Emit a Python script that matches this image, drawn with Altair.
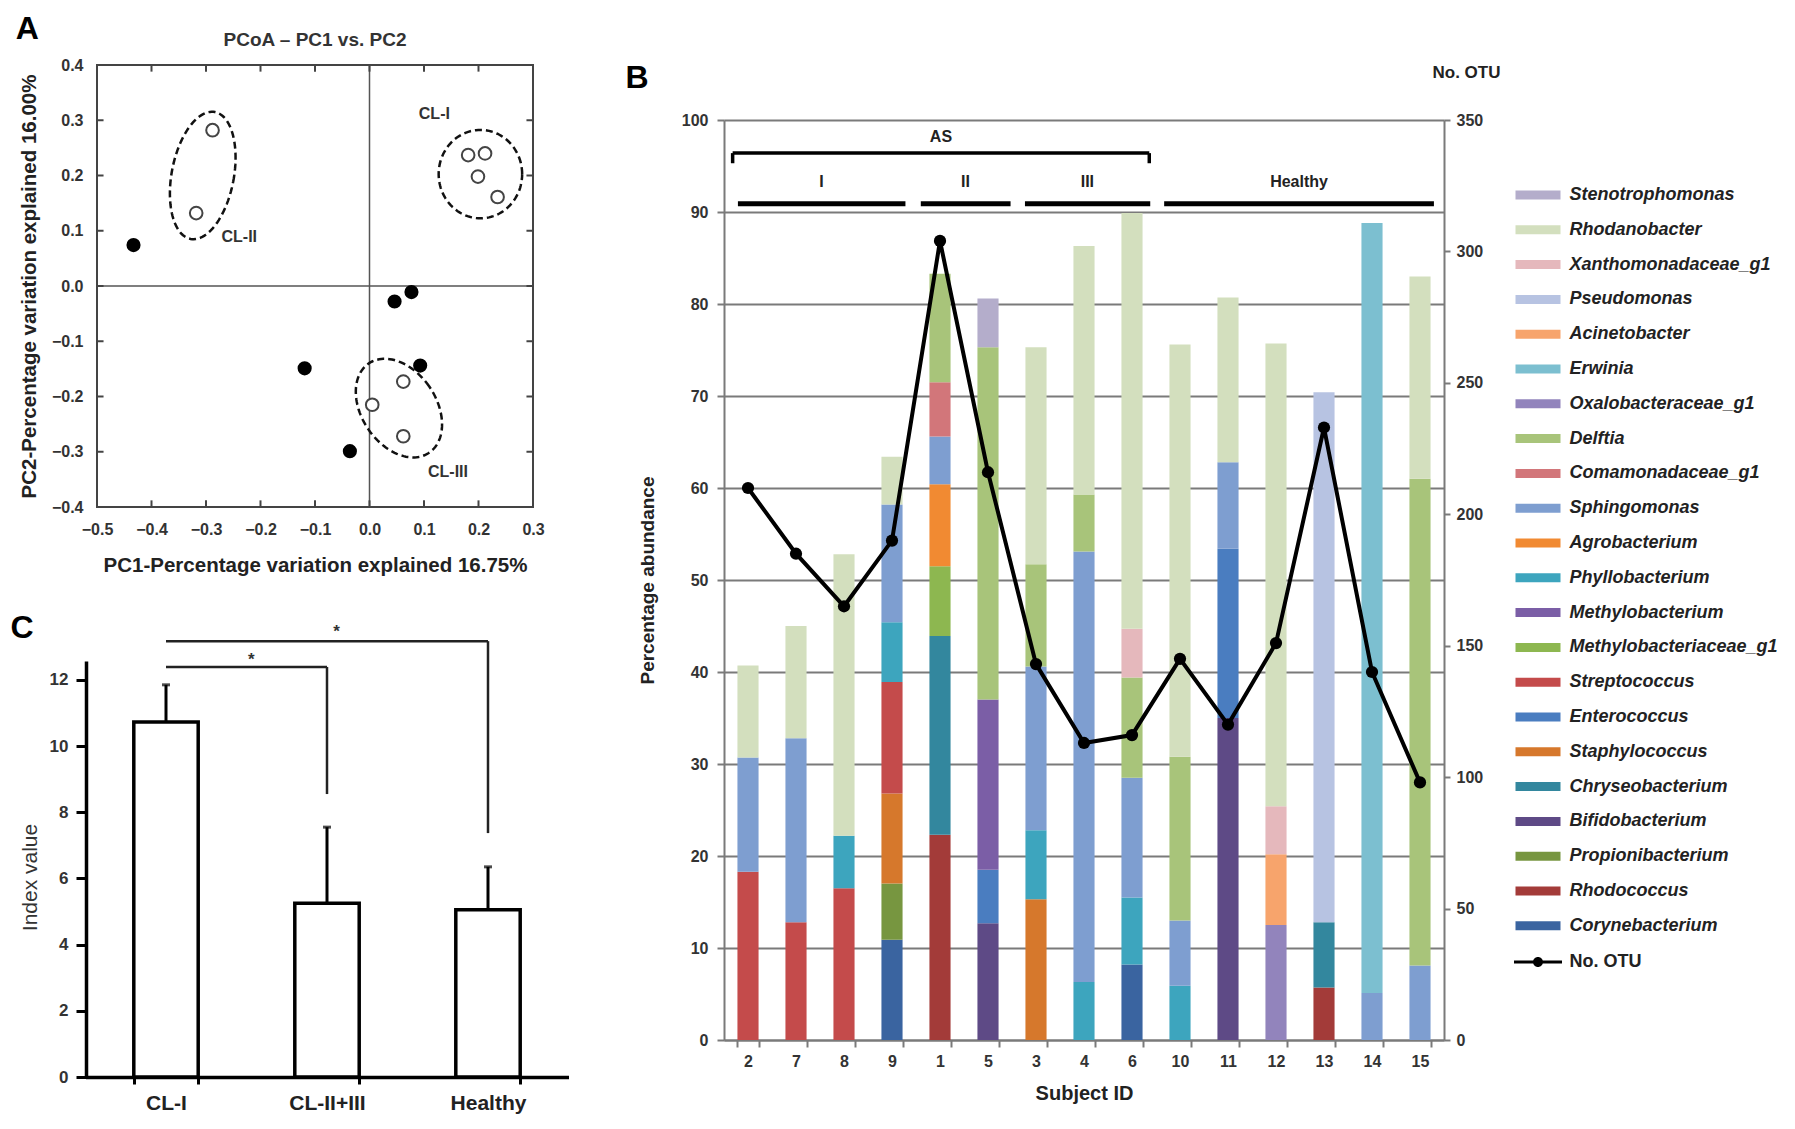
import altair as alt
import numpy as np
import pandas as pd

W, H = 1779, 1113
FONT = "Liberation Sans"
INK = "#222222"
LBL = "#333333"
GRID = "#7a7a7a"

# ---------------- Panel A : PCoA ----------------
pc1_open = [0.181, 0.212, 0.199, 0.235, -0.288, -0.318, 0.062, 0.005, 0.062]
pc2_open = [0.237, 0.240, 0.198, 0.161, 0.282, 0.132, -0.173, -0.215, -0.272]
pc1_filled = [-0.433, 0.046, 0.077, -0.119, 0.093, -0.036]
pc2_filled = [0.074, -0.028, -0.011, -0.149, -0.144, -0.299]
cluster_names = ["CL-I", "CL-II", "CL-III"]
cluster_cx = [0.2035, -0.306, 0.054]
cluster_cy = [0.2025, 0.200, -0.221]
cluster_major = [0.080, 0.117, 0.098]
cluster_minor = [0.0766, 0.057, 0.068]
cluster_tilt = [0.0, 11.0, -35.0]
cluster_label_x = [0.119, -0.239, 0.144]
cluster_label_y = [0.311, 0.089, -0.336]
pcoa_x_ticks = [-0.5, -0.4, -0.3, -0.2, -0.1, 0.0, 0.1, 0.2, 0.3]
pcoa_y_ticks = [-0.4, -0.3, -0.2, -0.1, 0.0, 0.1, 0.2, 0.3, 0.4]

# ---------------- Panel B : stacked abundance ----------------
subjects = ["2", "7", "8", "9", "1", "5", "3", "4", "6", "10", "11", "12", "13", "14", "15"]
genera = ["Stenotrophomonas", "Rhodanobacter", "Xanthomonadaceae_g1", "Pseudomonas",
          "Acinetobacter", "Erwinia", "Oxalobacteraceae_g1", "Delftia", "Comamonadaceae_g1",
          "Sphingomonas", "Agrobacterium", "Phyllobacterium", "Methylobacterium",
          "Methylobacteriaceae_g1", "Streptococcus", "Enterococcus", "Staphylococcus",
          "Chryseobacterium", "Bifidobacterium", "Propionibacterium", "Rhodococcus",
          "Corynebacterium"]
genus_colors = ["#b4adcb", "#d3dfbe", "#e5b8bc", "#b7c3e2", "#f7a46c", "#7cbfd0",
                "#9284bc", "#a8c47a", "#d2767a", "#7e9ed0", "#f18a32", "#3da5be",
                "#7b5ea6", "#8db750", "#c44b4b", "#4a7dc0", "#d6782c", "#33879e",
                "#5e4a86", "#779640", "#a33b39", "#3a64a0"]
# cumulative tops (bottom -> top)
stack_2 = [("Streptococcus", 18.3), ("Sphingomonas", 30.7), ("Rhodanobacter", 40.7)]
stack_7 = [("Streptococcus", 12.8), ("Sphingomonas", 32.8), ("Rhodanobacter", 45.0)]
stack_8 = [("Streptococcus", 16.5), ("Phyllobacterium", 22.2), ("Rhodanobacter", 52.8)]
stack_9 = [("Corynebacterium", 10.9), ("Propionibacterium", 17.0), ("Staphylococcus", 26.8),
           ("Streptococcus", 38.9), ("Phyllobacterium", 45.4), ("Sphingomonas", 58.2),
           ("Rhodanobacter", 63.4)]
stack_1 = [("Rhodococcus", 22.3), ("Chryseobacterium", 43.9), ("Methylobacteriaceae_g1", 51.5),
           ("Agrobacterium", 60.4), ("Sphingomonas", 65.6), ("Comamonadaceae_g1", 71.5),
           ("Delftia", 83.3)]
stack_5 = [("Bifidobacterium", 12.7), ("Enterococcus", 18.5), ("Methylobacterium", 37.0),
           ("Delftia", 75.3), ("Stenotrophomonas", 80.6)]
stack_3 = [("Staphylococcus", 15.3), ("Phyllobacterium", 22.8), ("Sphingomonas", 40.6),
           ("Delftia", 51.7), ("Rhodanobacter", 75.3)]
stack_4 = [("Phyllobacterium", 6.3), ("Sphingomonas", 53.1), ("Delftia", 59.3),
           ("Rhodanobacter", 86.3)]
stack_6 = [("Corynebacterium", 8.2), ("Phyllobacterium", 15.5), ("Sphingomonas", 28.5),
           ("Delftia", 39.4), ("Xanthomonadaceae_g1", 44.7), ("Rhodanobacter", 89.9)]
stack_10 = [("Phyllobacterium", 5.9), ("Sphingomonas", 13.0), ("Delftia", 30.8),
            ("Rhodanobacter", 75.6)]
stack_11 = [("Bifidobacterium", 35.0), ("Enterococcus", 53.4), ("Sphingomonas", 62.8),
            ("Rhodanobacter", 80.7)]
stack_12 = [("Oxalobacteraceae_g1", 12.5), ("Acinetobacter", 20.2),
            ("Xanthomonadaceae_g1", 25.4), ("Rhodanobacter", 75.7)]
stack_13 = [("Rhodococcus", 5.7), ("Chryseobacterium", 12.8), ("Pseudomonas", 70.4)]
stack_14 = [("Sphingomonas", 5.1), ("Erwinia", 88.8)]
stack_15 = [("Sphingomonas", 8.1), ("Delftia", 61.0), ("Rhodanobacter", 83.0)]
otu_counts = [210, 185, 165, 190, 304, 216, 143, 113, 116, 145, 120, 151, 233, 140, 98]
b_ticks_left = [0, 10, 20, 30, 40, 50, 60, 70, 80, 90, 100]
b_ticks_right = [0, 50, 100, 150, 200, 250, 300, 350]
# header annotation (x in subject-slot units, y in % units)
group_names = ["I", "II", "III", "Healthy"]
group_start = [0.29, 4.10, 6.27, 9.17]
group_end = [3.78, 5.97, 8.88, 14.79]
group_label_x = [2.03, 5.03, 7.57, 11.98]
as_start, as_end, as_y, as_tick_y = 0.18, 8.86, 96.4, 95.3

# ---------------- Panel C : index value ----------------
c_groups = ["CL-I", "CL-II+III", "Healthy"]
c_mean = [10.73, 5.25, 5.05]
c_sd = [1.12, 2.30, 1.30]
c_ticks = [0, 2, 4, 6, 8, 10, 12]

# ---------------- pixel layout of the three panels ----------------
A_X, A_Y = [89, 525], [499, 57]
B_X, B_Y = [716, 1436], [1032, 112]
C_X, C_Y = [77.5, 560.5], [1069, 653]

# ======================= Panel A =======================
xA = alt.Scale(domain=[pcoa_x_ticks[0], pcoa_x_ticks[-1]], range=A_X, nice=False, zero=False)
yA = alt.Scale(domain=[pcoa_y_ticks[0], pcoa_y_ticks[-1]], range=A_Y, nice=False, zero=False)
axA_x = alt.Axis(orient="bottom", offset=A_Y[0] - H, values=pcoa_x_ticks, format=".1f",
                 labelFlush=False, ticks=False, domain=False, grid=False,
                 labelFont=FONT, labelFontSize=16, labelFontWeight="bold", labelColor=LBL,
                 labelPadding=14,
                 title="PC1-Percentage variation explained 16.75%", titleFont=FONT,
                 titleFontSize=20.5, titleFontWeight="bold", titleColor=INK,
                 titleX=(A_X[0] + A_X[1]) / 2, titleY=58, titleBaseline="middle",
                 titleAlign="center")
axA_y = alt.Axis(orient="left", offset=-A_X[0], values=pcoa_y_ticks, format=".1f",
                 labelFlush=False, ticks=False, domain=False, grid=False,
                 labelFont=FONT, labelFontSize=16, labelFontWeight="bold", labelColor=LBL,
                 labelPadding=14,
                 title="PC2-Percentage variation explained 16.00%", titleFont=FONT,
                 titleFontSize=20.5, titleFontWeight="bold", titleColor=INK,
                 titleX=-68, titleY=(A_Y[0] + A_Y[1]) / 2, titleAngle=270,
                 titleBaseline="middle", titleAlign="center")

def XA(f):
    return alt.X(f, type="quantitative", scale=xA, axis=axA_x)

def YA(f):
    return alt.Y(f, type="quantitative", scale=yA, axis=axA_y)

x_lo, x_hi = pcoa_x_ticks[0], pcoa_x_ticks[-1]
y_lo, y_hi = pcoa_y_ticks[0], pcoa_y_ticks[-1]
frame_df = pd.DataFrame({"x": [x_lo], "x2": [x_hi], "y": [y_lo], "y2": [y_hi]})
frame = alt.Chart(frame_df).mark_rect(fillOpacity=0, stroke="#444444", strokeWidth=2).encode(
    x=XA("x"), x2="x2", y=YA("y"), y2="y2")

zero_df = pd.DataFrame({"x": [0.0, x_lo], "x2": [0.0, x_hi], "y": [y_lo, 0.0], "y2": [y_hi, 0.0]})
zero_lines = alt.Chart(zero_df).mark_rule(color="#555555", strokeWidth=1.5).encode(
    x=XA("x"), x2="x2", y=YA("y"), y2="y2")

tl = 0.012
tick_rows = []
for v in pcoa_x_ticks[1:-1]:
    tick_rows.append((v, v, y_lo, y_lo + tl))
    tick_rows.append((v, v, y_hi, y_hi - tl))
for v in pcoa_y_ticks[1:-1]:
    tick_rows.append((x_lo, x_lo + tl, v, v))
    tick_rows.append((x_hi, x_hi - tl, v, v))
ticks_df = pd.DataFrame(tick_rows, columns=["x", "x2", "y", "y2"])
inner_ticks = alt.Chart(ticks_df).mark_rule(color="#444444", strokeWidth=2).encode(
    x=XA("x"), x2="x2", y=YA("y"), y2="y2")

ell_rows = []
t = np.linspace(0, 2 * np.pi, 121)
for name, cx, cy, a, b, th in zip(cluster_names, cluster_cx, cluster_cy, cluster_major,
                                  cluster_minor, cluster_tilt):
    r = np.deg2rad(th)
    u = b * np.cos(t)
    v = a * np.sin(t)
    ex = cx + u * np.cos(r) + v * np.sin(r)
    ey = cy - u * np.sin(r) + v * np.cos(r)
    for i, (px, py) in enumerate(zip(ex, ey)):
        ell_rows.append((name, i, px, py))
ell_df = pd.DataFrame(ell_rows, columns=["cluster", "i", "x", "y"])
ellipses = alt.Chart(ell_df).mark_line(color="#111111", strokeWidth=2.5,
                                       strokeDash=[7, 4]).encode(
    x=XA("x"), y=YA("y"), detail="cluster:N", order="i:Q")

open_df = pd.DataFrame({"x": pc1_open, "y": pc2_open})
open_pts = alt.Chart(open_df).mark_point(shape="circle", fill="white", stroke="#444444",
                                         strokeWidth=2, size=160, opacity=1).encode(
    x=XA("x"), y=YA("y"))
filled_df = pd.DataFrame({"x": pc1_filled, "y": pc2_filled})
filled_pts = alt.Chart(filled_df).mark_point(shape="circle", filled=True, color="black",
                                             size=200, opacity=1).encode(
    x=XA("x"), y=YA("y"))

lab_df = pd.DataFrame({"x": cluster_label_x, "y": cluster_label_y, "t": cluster_names})
cl_labels = alt.Chart(lab_df).mark_text(font=FONT, fontSize=16, fontWeight="bold",
                                        color=LBL, baseline="middle").encode(
    x=XA("x"), y=YA("y"), text="t:N")

titleA_df = pd.DataFrame({"x": [(x_lo + x_hi) / 2], "y": [y_hi + 0.045],
                          "t": ["PCoA \u2013 PC1 vs. PC2"]})
titleA = alt.Chart(titleA_df).mark_text(font=FONT, fontSize=19, fontWeight="bold",
                                        color=LBL, baseline="middle").encode(
    x=XA("x"), y=YA("y"), text="t:N")
letterA_df = pd.DataFrame({"x": [x_lo - 0.128], "y": [y_hi + 0.066], "t": ["A"]})
letterA = alt.Chart(letterA_df).mark_text(font=FONT, fontSize=32, fontWeight="bold",
                                          color="black", baseline="middle").encode(
    x=XA("x"), y=YA("y"), text="t:N")

panelA = alt.layer(frame, zero_lines, inner_ticks, ellipses, open_pts, filled_pts,
                   cl_labels, titleA, letterA)

# ======================= Panel B =======================
stacks = [stack_2, stack_7, stack_8, stack_9, stack_1, stack_5, stack_3, stack_4, stack_6,
          stack_10, stack_11, stack_12, stack_13, stack_14, stack_15]
bar_rows = []
for s, st in zip(subjects, stacks):
    lo = 0.0
    for g, top in st:
        bar_rows.append((s, g, lo, top))
        lo = top
bars_df = pd.DataFrame(bar_rows, columns=["subject", "genus", "lo", "hi"])

xB = alt.Scale(domain=subjects, range=B_X, paddingInner=0.56, paddingOuter=0.28)
yB = alt.Scale(domain=[b_ticks_left[0], b_ticks_left[-1]], range=B_Y, nice=False, zero=False)
yOTU = alt.Scale(domain=[b_ticks_right[0], b_ticks_right[-1]], range=B_Y, nice=False,
                 zero=False)

axB_x = alt.Axis(orient="bottom", offset=B_Y[0] - H, labelAngle=0, tickBand="extent",
                 tickSize=7, tickColor=GRID, tickWidth=2, domainColor=GRID, domainWidth=2,
                 grid=False, labelFont=FONT, labelFontSize=16, labelFontWeight="bold",
                 labelColor=LBL, labelBaseline="middle", labelPadding=14,
                 title="Subject ID", titleFont=FONT, titleFontSize=20,
                 titleFontWeight="bold", titleColor=INK,
                 titleX=(B_X[0] + B_X[1]) / 2, titleY=53, titleBaseline="middle",
                 titleAlign="center")
axB_y = alt.Axis(orient="left", offset=-B_X[0], values=b_ticks_left, format="d",
                 grid=True, gridColor=GRID, gridWidth=2, domainColor=GRID, domainWidth=2,
                 tickColor=GRID, tickWidth=2, tickSize=7, labelFont=FONT, labelFontSize=16,
                 labelFontWeight="bold", labelColor=LBL, labelPadding=9,
                 title="Percentage abundance", titleFont=FONT, titleFontSize=19,
                 titleFontWeight="bold", titleColor=INK, titleX=-77,
                 titleY=(B_Y[0] + B_Y[1]) / 2, titleAngle=270, titleBaseline="middle",
                 titleAlign="center")
axB_r = alt.Axis(orient="right", offset=B_X[1] - W, values=b_ticks_right, format="d",
                 grid=False, domainColor=GRID, domainWidth=2, tickColor=GRID, tickWidth=2,
                 tickSize=6, labelFont=FONT, labelFontSize=16, labelFontWeight="bold",
                 labelColor=LBL, labelPadding=6,
                 title="No. OTU", titleFont=FONT, titleFontSize=17, titleFontWeight="bold",
                 titleColor=INK, titleAngle=0, titleX=22, titleY=64,
                 titleBaseline="middle", titleAlign="center")

swatch = "M-4.5,-0.9L4.5,-0.9L4.5,0.9L-4.5,0.9Z"
line_dot = "M-4.8,-0.3L4.8,-0.3L4.8,0.3L-4.8,0.3Z M1,0A1,1,0,1,1,-1,0A1,1,0,1,1,1,0Z"
legB = alt.Legend(orient="none", legendX=1521, legendY=178, direction="vertical",
                  title=None, symbolType=swatch, symbolSize=100, symbolStrokeWidth=0,
                  symbolOpacity=1, labelFont=FONT, labelFontSize=18, labelFontStyle="italic",
                  labelFontWeight="bold", labelColor=INK, labelOffset=22.5, rowPadding=16.8,
                  padding=0, labelLimit=400)
legOTU = alt.Legend(orient="none", legendX=1521, legendY=945, direction="vertical",
                    title=None, symbolType=line_dot, symbolSize=100, symbolStrokeWidth=0,
                    symbolOpacity=1, labelFont=FONT, labelFontSize=18, labelFontWeight="bold",
                    labelColor=INK, labelOffset=22.5, padding=0)

bars = alt.Chart(bars_df).mark_bar().encode(
    x=alt.X("subject:N", scale=xB, axis=axB_x),
    y=alt.Y("lo:Q", scale=yB, axis=axB_y),
    y2="hi:Q",
    color=alt.Color("genus:N", scale=alt.Scale(domain=genera, range=genus_colors),
                    legend=legB))

otu_df = pd.DataFrame({"subject": subjects, "otu": otu_counts,
                       "idx": list(range(len(subjects))),
                       "series": ["No. OTU"] * len(subjects)})
otu_line = alt.Chart(otu_df).mark_line(color="black", strokeWidth=4).encode(
    x=alt.X("subject:N", scale=xB, axis=axB_x),
    y=alt.Y("otu:Q", scale=yOTU, axis=axB_r),
    order="idx:Q")
otu_pts = alt.Chart(otu_df).mark_point(shape="circle", filled=True, size=150,
                                       opacity=1).encode(
    x=alt.X("subject:N", scale=xB, axis=axB_x),
    y=alt.Y("otu:Q", scale=yOTU, axis=axB_r),
    fill=alt.Fill("series:N", scale=alt.Scale(domain=["No. OTU"], range=["black"]),
                  legend=legOTU))
panelB = alt.layer(bars, alt.layer(otu_line, otu_pts)).resolve_scale(y="independent")

# header (groups) drawn in subject-slot units
xH = alt.Scale(domain=[0, len(subjects)], range=B_X, nice=False, zero=False)
yH = alt.Scale(domain=[b_ticks_left[0], b_ticks_left[-1]], range=B_Y, nice=False, zero=False)

def XH(f):
    return alt.X(f, type="quantitative", scale=xH, axis=None)

def YH(f):
    return alt.Y(f, type="quantitative", scale=yH, axis=None)

glines_df = pd.DataFrame({"x": group_start, "x2": group_end, "y": [90.9] * 4})
glines = alt.Chart(glines_df).mark_rule(color="black", strokeWidth=5).encode(
    x=XH("x"), x2="x2", y=YH("y"))
as_df = pd.DataFrame({"x": [as_start, as_start, as_end], "x2": [as_end, as_start, as_end],
                      "y": [as_y, as_y, as_y], "y2": [as_y, as_tick_y, as_tick_y]})
as_br = alt.Chart(as_df).mark_rule(color="black", strokeWidth=3.5).encode(
    x=XH("x"), x2="x2", y=YH("y"), y2="y2")
htext_df = pd.DataFrame({"x": [(as_start + as_end) / 2] + group_label_x,
                         "y": [98.1] + [93.3] * 4,
                         "t": ["AS"] + group_names})
htext = alt.Chart(htext_df).mark_text(font=FONT, fontSize=16, fontWeight="bold",
                                      color=INK, baseline="middle").encode(
    x=XH("x"), y=YH("y"), text="t:N")
letterB_df = pd.DataFrame({"x": [-1.81], "y": [104.6], "t": ["B"]})
letterB = alt.Chart(letterB_df).mark_text(font=FONT, fontSize=32, fontWeight="bold",
                                          color="black", baseline="middle").encode(
    x=XH("x"), y=YH("y"), text="t:N")
header = alt.layer(glines, as_br, htext, letterB)

# ======================= Panel C =======================
c_df = pd.DataFrame({"group": c_groups, "mean": c_mean,
                     "top": [m + s for m, s in zip(c_mean, c_sd)]})
xC = alt.Scale(domain=c_groups, range=C_X, paddingInner=0.6, paddingOuter=0.3)
yC = alt.Scale(domain=[0, 12.57], range=C_Y, nice=False, zero=False)
axC_x = alt.Axis(orient="bottom", offset=C_Y[0] - H, labelAngle=0, tickBand="extent",
                 tickSize=7, tickWidth=3, tickColor="black", domainColor="black",
                 domainWidth=3.5, grid=False, labelFont=FONT, labelFontSize=21,
                 labelFontWeight="bold", labelColor=INK, labelBaseline="middle",
                 labelPadding=19, title=None)
axC_y = alt.Axis(orient="left", offset=-78, values=c_ticks, format="d", tickSize=10,
                 tickWidth=3, tickColor="black", domainColor="black", domainWidth=3.5,
                 grid=False, labelFont=FONT, labelFontSize=17, labelFontWeight="bold",
                 labelColor=LBL, labelPadding=8,
                 title="Index value", titleFont=FONT, titleFontSize=21,
                 titleFontWeight="normal", titleColor=LBL, titleX=-56,
                 titleY=(C_Y[0] + C_Y[1]) / 2 + 8, titleAngle=270, titleBaseline="middle",
                 titleAlign="center")
c_bars = alt.Chart(c_df).mark_bar(fill="white", stroke="black", strokeWidth=3.5).encode(
    x=alt.X("group:N", scale=xC, axis=axC_x),
    y=alt.Y("mean:Q", scale=yC, axis=axC_y))
c_err = alt.Chart(c_df).mark_rule(color="black", strokeWidth=3).encode(
    x=alt.X("group:N", scale=xC, axis=axC_x),
    y=alt.Y("mean:Q", scale=yC, axis=axC_y), y2="top:Q")
c_cap = alt.Chart(c_df).mark_tick(color="black", thickness=3, size=8).encode(
    x=alt.X("group:N", scale=xC, axis=axC_x),
    y=alt.Y("top:Q", scale=yC, axis=axC_y))
panelC = alt.layer(c_bars, c_err, c_cap)

xCq = alt.Scale(domain=[0, len(c_groups)], range=C_X, nice=False, zero=False)
yCq = alt.Scale(domain=[0, 12.57], range=C_Y, nice=False, zero=False)

def XC(f):
    return alt.X(f, type="quantitative", scale=xCq, axis=None)

def YC(f):
    return alt.Y(f, type="quantitative", scale=yCq, axis=None)

sig_df = pd.DataFrame({"x": [0.5, 1.5, 0.5, 2.5], "x2": [1.5, 1.5, 2.5, 2.5],
                       "y": [12.39, 12.39, 13.17, 13.17], "y2": [12.39, 8.55, 13.17, 7.37]})
sig = alt.Chart(sig_df).mark_rule(color=INK, strokeWidth=2.5).encode(
    x=XC("x"), x2="x2", y=YC("y"), y2="y2")
star_df = pd.DataFrame({"x": [1.03, 1.56], "y": [12.6, 13.45], "t": ["*", "*"]})
stars = alt.Chart(star_df).mark_text(font=FONT, fontSize=17, fontWeight="bold",
                                     color=LBL, baseline="middle").encode(
    x=XC("x"), y=YC("y"), text="t:N")
letterC_df = pd.DataFrame({"x": [-0.394], "y": [13.57], "t": ["C"]})
letterC = alt.Chart(letterC_df).mark_text(font=FONT, fontSize=32, fontWeight="bold",
                                          color="black", baseline="middle").encode(
    x=XC("x"), y=YC("y"), text="t:N")
annC = alt.layer(sig, stars, letterC)

chart = alt.layer(panelA, panelB, header, panelC, annC).resolve_scale(
    x="independent", y="independent"
).properties(width=W, height=H, padding=0, background="white").configure_view(stroke=None)

chart.save("out.html", embed_options={"renderer": "svg", "actions": False})
